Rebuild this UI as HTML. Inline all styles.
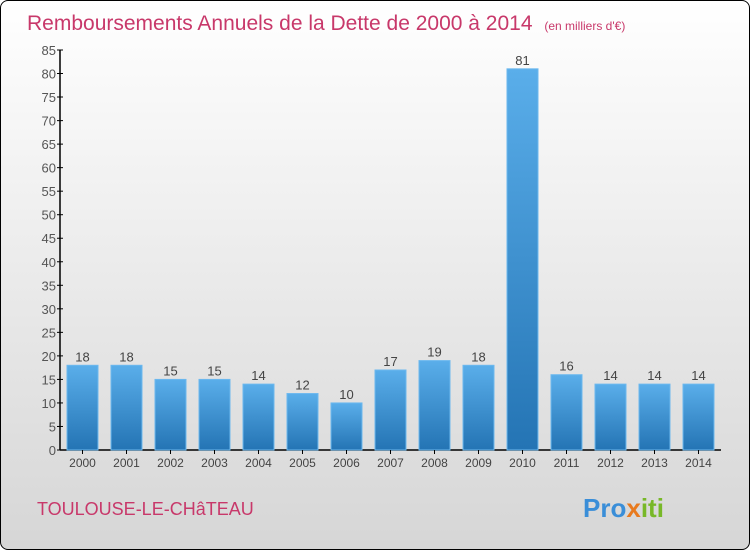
<!DOCTYPE html>
<html><head><meta charset="utf-8"><style>
body{margin:0;}
#wrap{width:748px;height:548px;border:1px solid #000;border-radius:8px;overflow:hidden;background:linear-gradient(#ffffff,#d6d6d6);position:relative;font-family:"Liberation Sans",sans-serif;}
</style></head><body>
<div id="wrap">
<svg id="chart" width="748" height="548">
<defs><linearGradient id="bg" x1="0" y1="0" x2="0" y2="1"><stop offset="0" stop-color="#5aaeea"/><stop offset="1" stop-color="#2474b4"/></linearGradient></defs>
<text x="26" y="29" font-size="21" fill="#c8386a">Remboursements Annuels de la Dette de 2000 à 2014 <tspan font-size="12" dx="6">(en milliers d'€)</tspan></text>
<text x="36" y="514" font-size="18" fill="#c8386a">TOULOUSE-LE-CHâTEAU</text>
<text x="582" y="516" font-size="26" font-weight="bold" fill="#3a8ed8"><tspan fill="#3a8ed8">Pro</tspan><tspan fill="#e87a1e">x</tspan><tspan fill="#78b828">iti</tspan></text>
<g id="g"></g>
</svg></div>
<script>
const years=["2000","2001","2002","2003","2004","2005","2006","2007","2008","2009","2010","2011","2012","2013","2014"];
const values=[18,18,15,15,14,12,10,17,19,18,81,16,14,14,14];
const ticks=[0,5,10,15,20,25,30,35,40,45,50,55,60,65,70,75,80,85];
const ns="http://www.w3.org/2000/svg";
const g=document.getElementById('g');
const y0=449,yTop=49,maxV=85,x0=59,step=44,bw=31,firstX=66;
function y(v){return y0-(y0-yTop)*v/maxV;}
function xb(i){return firstX+i*step;}
function mk(t,a,txt){const e=document.createElementNS(ns,t);for(const k in a)e.setAttribute(k,a[k]);if(txt!==undefined)e.textContent=txt;g.appendChild(e);return e;}
let ax=mk('line',{x1:x0,y1:yTop,x2:x0,y2:y0,stroke:'#000','stroke-width':1.5});


let bx=mk('line',{x1:x0,y1:y0,x2:720,y2:y0,stroke:'#000','stroke-width':1.5});


ticks.forEach(t=>{
 const l=mk('line',{x1:x0-3,y1:y(t),x2:x0+3,y2:y(t),stroke:'#000'});
 
 
 const tx=mk('text',{x:x0-4,y:y(t)+5,'font-size':13,fill:'#555','text-anchor':'end'},t);
 
 
});
years.forEach((yr,i)=>{
 const v=values[i];
 const r=mk('rect',{x:xb(i),y:y(v),width:bw,height:y0-y(v),fill:'url(#bg)',stroke:'#6cb8ee','stroke-width':1});
 
 
 const vl=mk('text',{x:xb(i)+bw/2,y:y(v)-4,'font-size':13,fill:'#444','text-anchor':'middle'},v);
 
 
 const tk=mk('line',{x1:xb(i)+bw/2,y1:y0,x2:xb(i)+bw/2,y2:y0+4,stroke:'#000'});
 
 
 const xl=mk('text',{x:xb(i)+bw/2,y:y0+17,'font-size':12,fill:'#444','text-anchor':'middle'},yr);
 
 
});
</script>
</body></html>
